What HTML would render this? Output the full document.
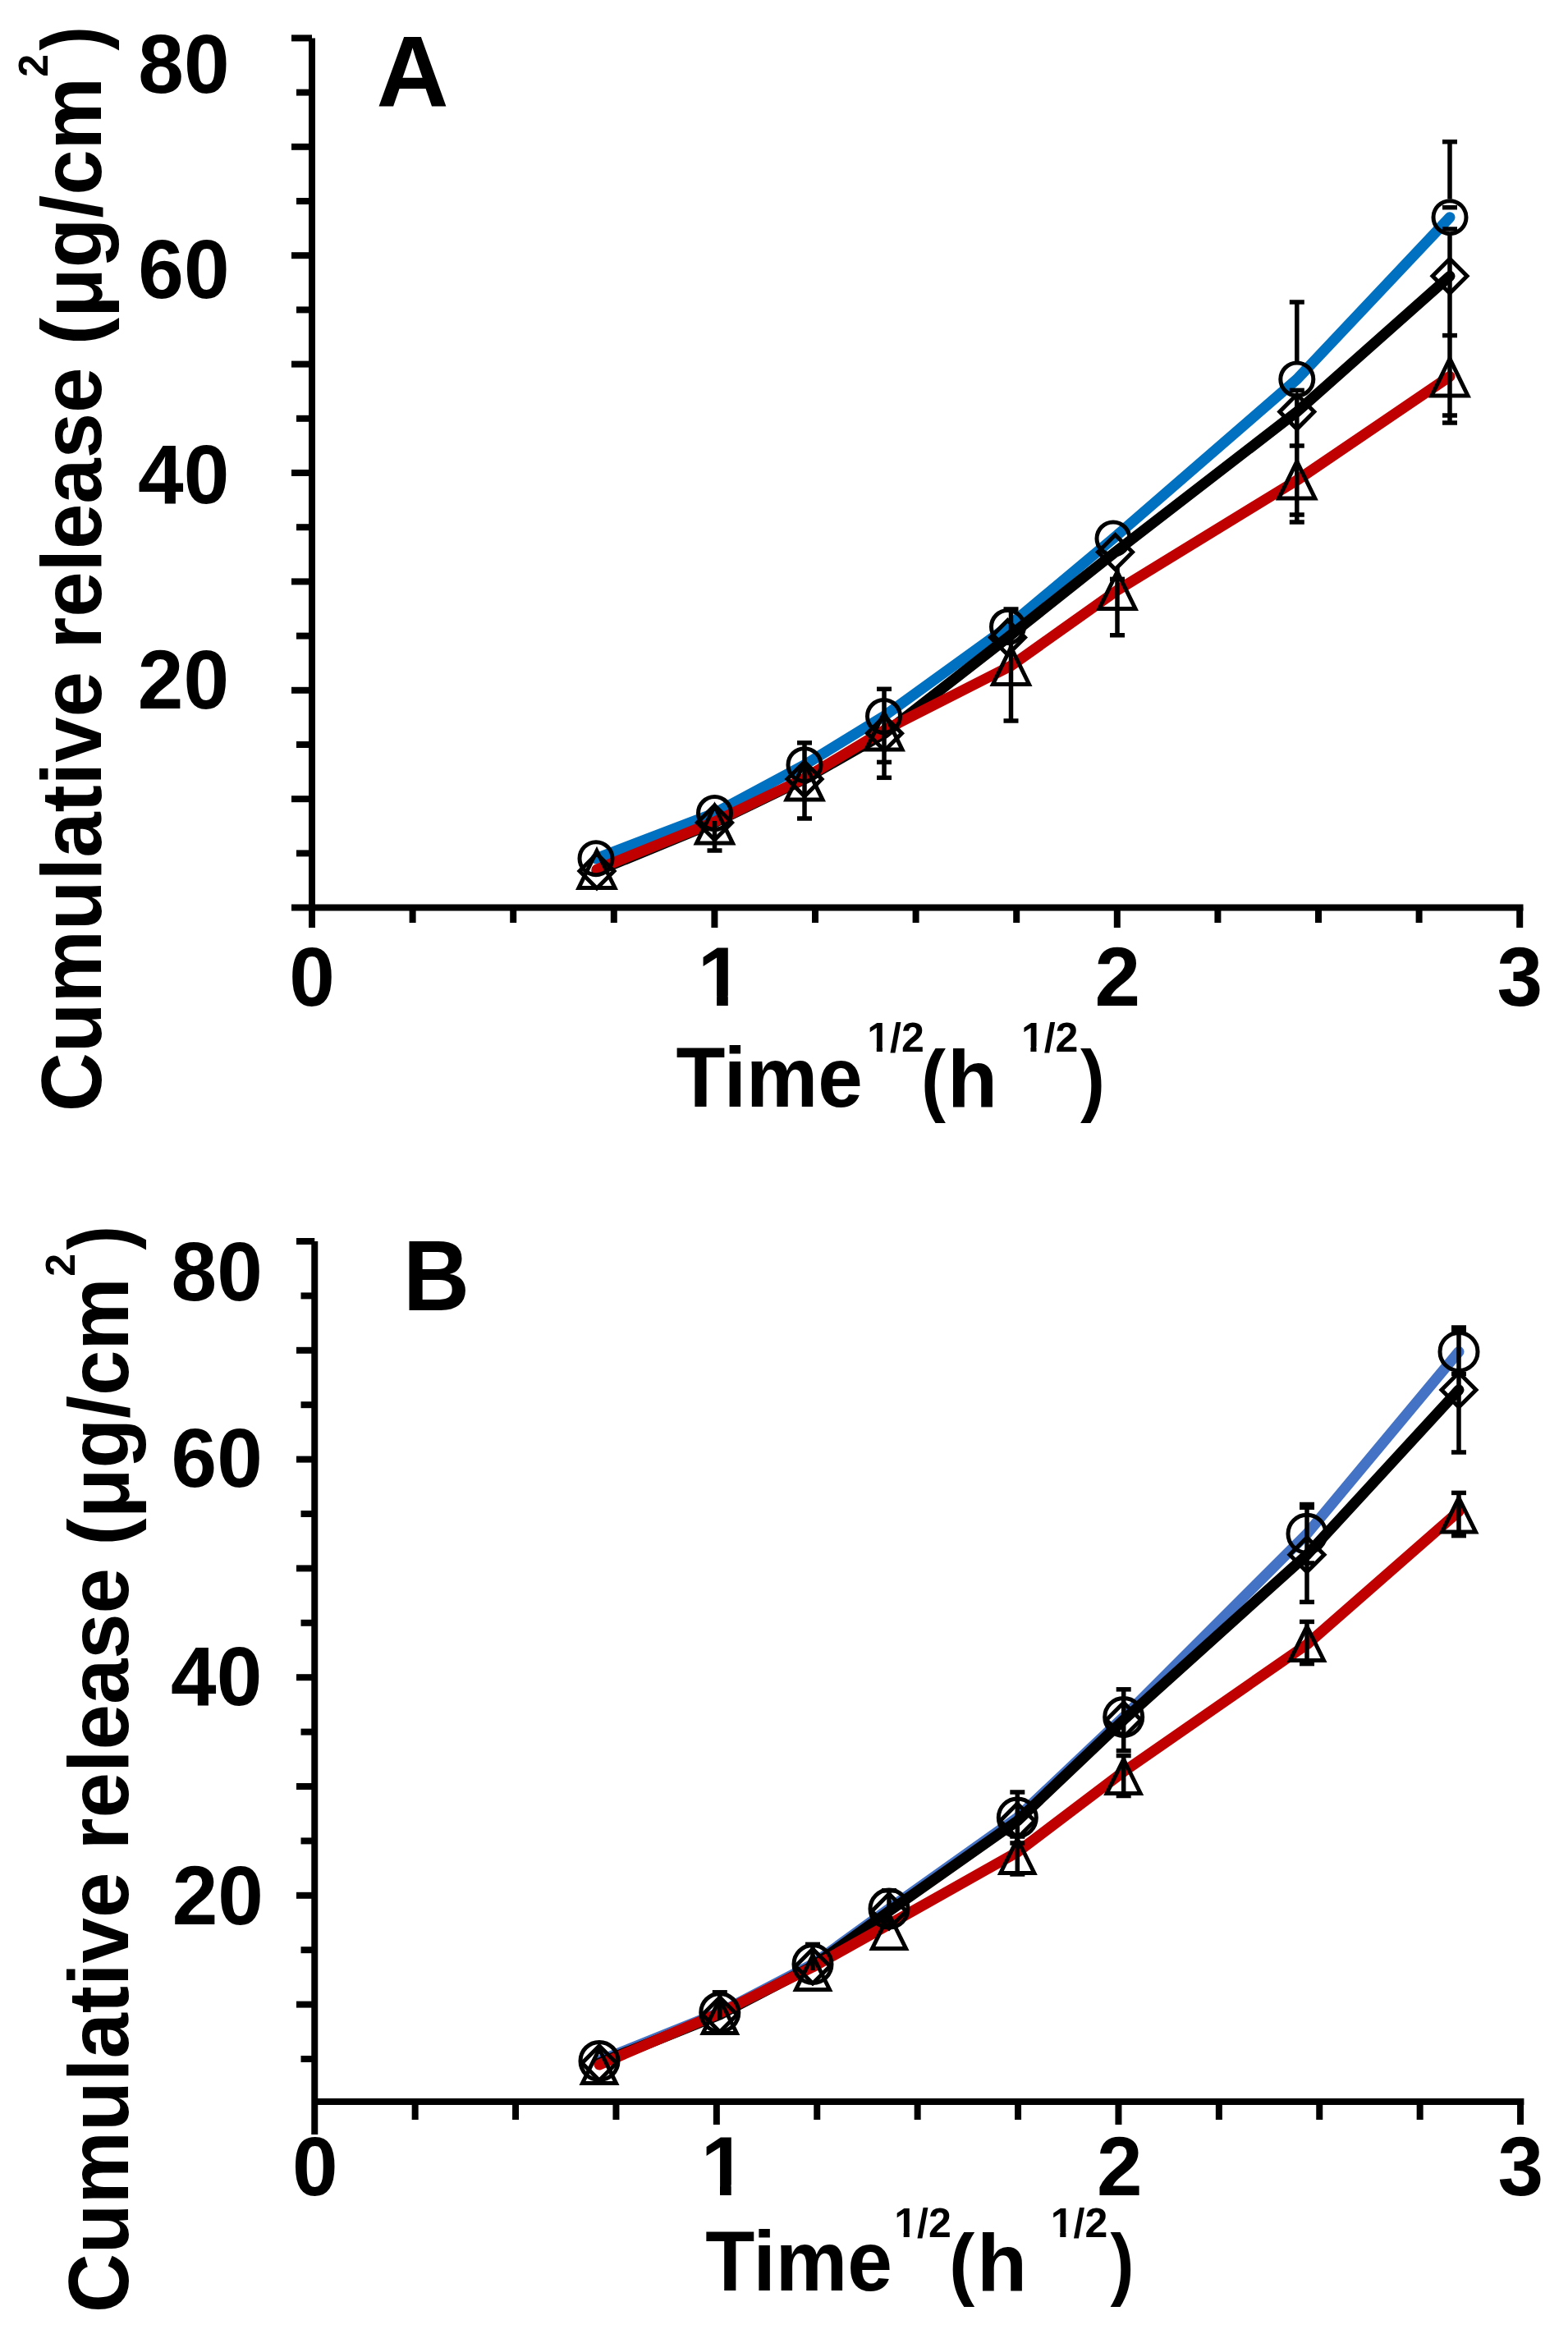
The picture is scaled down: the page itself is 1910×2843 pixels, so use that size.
<!DOCTYPE html>
<html><head><meta charset="utf-8"><title>Cumulative release</title><style>html,body{margin:0;padding:0;background:#fff;overflow:hidden;}svg{display:block;}text{font-family:"Liberation Sans",Arial,sans-serif;font-weight:bold;fill:#000;}</style></head><body>
<svg width="1910" height="2843" viewBox="0 0 1910 2843">
<rect width="1910" height="2843" fill="#fff"/>
<defs><clipPath id="one"><rect x="-20" y="-100" width="100" height="88"/><rect x="23.3" y="-13" width="13.7" height="20"/></clipPath><clipPath id="half"><rect x="-10" y="-60" width="200" height="54.1"/><rect x="11.5" y="-7" width="7.1" height="14"/><rect x="27" y="-7" width="200" height="14"/></clipPath></defs>
<g stroke="#000" stroke-width="8" fill="none" stroke-linecap="butt"><line x1="380" y1="46.4" x2="380" y2="1105.5"/><line x1="355" y1="46.4" x2="380" y2="46.4"/><line x1="361" y1="112.6" x2="380" y2="112.6"/><line x1="355" y1="178.8" x2="380" y2="178.8"/><line x1="361" y1="245" x2="380" y2="245"/><line x1="355" y1="311.2" x2="380" y2="311.2"/><line x1="361" y1="377.4" x2="380" y2="377.4"/><line x1="355" y1="443.6" x2="380" y2="443.6"/><line x1="361" y1="509.8" x2="380" y2="509.8"/><line x1="355" y1="576" x2="380" y2="576"/><line x1="361" y1="642.2" x2="380" y2="642.2"/><line x1="355" y1="708.4" x2="380" y2="708.4"/><line x1="361" y1="774.6" x2="380" y2="774.6"/><line x1="355" y1="840.8" x2="380" y2="840.8"/><line x1="361" y1="907" x2="380" y2="907"/><line x1="355" y1="973.2" x2="380" y2="973.2"/><line x1="361" y1="1039.4" x2="380" y2="1039.4"/><line x1="355" y1="1105.5" x2="1855.5" y2="1105.5"/><line x1="380" y1="1105.5" x2="380" y2="1130"/><line x1="502.6" y1="1105.5" x2="502.6" y2="1124"/><line x1="625.2" y1="1105.5" x2="625.2" y2="1124"/><line x1="747.8" y1="1105.5" x2="747.8" y2="1124"/><line x1="870.4" y1="1105.5" x2="870.4" y2="1130"/><line x1="993" y1="1105.5" x2="993" y2="1124"/><line x1="1115.6" y1="1105.5" x2="1115.6" y2="1124"/><line x1="1238.2" y1="1105.5" x2="1238.2" y2="1124"/><line x1="1360.8" y1="1105.5" x2="1360.8" y2="1130"/><line x1="1483.4" y1="1105.5" x2="1483.4" y2="1124"/><line x1="1606" y1="1105.5" x2="1606" y2="1124"/><line x1="1728.6" y1="1105.5" x2="1728.6" y2="1124"/><line x1="1851.2" y1="1105.5" x2="1851.2" y2="1130"/></g><g fill="none" stroke-width="13" stroke-linejoin="round" stroke-linecap="round"><path stroke="#0070C0" d="M726 1045.7 L870.5 990.5 L980 931.7 L1076.5 872.5 L1227.5 763.5 L1356 656 L1579.8 462 L1766 264.7"/><path stroke="#000" d="M727 1061 L870.5 1002 L980 949 L1077.5 893.3 L1227.5 776.5 L1358.5 672.5 L1579.8 501.6 L1766 336.3"/><path stroke="#C00000" d="M727 1059 L870.5 1001 L980 948 L1077 889.5 L1231.5 811 L1361 719 L1579.8 585 L1766 458.5"/></g><g stroke="#000" stroke-width="5.5" fill="none"><line x1="980" y1="904.8" x2="980" y2="997"/><line x1="971" y1="904.8" x2="989" y2="904.8"/><line x1="971" y1="997" x2="989" y2="997"/><line x1="870.5" y1="1000" x2="870.5" y2="1036"/><line x1="861.5" y1="1036" x2="879.5" y2="1036"/><line x1="1077" y1="839.3" x2="1077" y2="947.3"/><line x1="1068" y1="839.3" x2="1086" y2="839.3"/><line x1="1068" y1="928.4" x2="1086" y2="928.4"/><line x1="1068" y1="947.3" x2="1086" y2="947.3"/><line x1="1231.5" y1="742" x2="1231.5" y2="878"/><line x1="1222.5" y1="742" x2="1240.5" y2="742"/><line x1="1222.5" y1="878" x2="1240.5" y2="878"/><line x1="1361" y1="690" x2="1361" y2="773.75"/><line x1="1352" y1="705.4" x2="1370" y2="705.4"/><line x1="1352" y1="773.75" x2="1370" y2="773.75"/><line x1="1579.8" y1="368" x2="1579.8" y2="440"/><line x1="1570.8" y1="368" x2="1588.8" y2="368"/><line x1="1579.8" y1="484" x2="1579.8" y2="636"/><line x1="1570.8" y1="543" x2="1588.8" y2="543"/><line x1="1570.8" y1="627" x2="1588.8" y2="627"/><line x1="1570.8" y1="636" x2="1588.8" y2="636"/><line x1="1766" y1="172.7" x2="1766" y2="242.5"/><line x1="1757" y1="172.7" x2="1775" y2="172.7"/><line x1="1766" y1="287" x2="1766" y2="515"/><line x1="1757" y1="408.6" x2="1775" y2="408.6"/><line x1="1757" y1="506" x2="1775" y2="506"/><line x1="1757" y1="515" x2="1775" y2="515"/><line x1="1766" y1="252.7" x2="1766" y2="252.7"/><line x1="1757" y1="252.7" x2="1775" y2="252.7"/><line x1="1766" y1="279" x2="1766" y2="279"/><line x1="1757" y1="279" x2="1775" y2="279"/><line x1="1579.8" y1="475.4" x2="1579.8" y2="475.4"/><line x1="1570.8" y1="475.4" x2="1588.8" y2="475.4"/></g><g stroke="#000" stroke-width="5" fill="none" stroke-linejoin="miter"><circle cx="726" cy="1045.7" r="20"/><circle cx="870.5" cy="990.5" r="20"/><circle cx="980" cy="931.7" r="20"/><circle cx="1076.5" cy="872.5" r="20"/><circle cx="1227.5" cy="763.5" r="20"/><circle cx="1356" cy="656" r="20"/><circle cx="1579.8" cy="462" r="20"/><circle cx="1766" cy="264.7" r="20"/><path d="M727 1040 L748 1061 L727 1082 L706 1061 Z"/><path d="M870.5 981 L891.5 1002 L870.5 1023 L849.5 1002 Z"/><path d="M980 928 L1001 949 L980 970 L959 949 Z"/><path d="M1077.5 872.3 L1098.5 893.3 L1077.5 914.3 L1056.5 893.3 Z"/><path d="M1227.5 755.5 L1248.5 776.5 L1227.5 797.5 L1206.5 776.5 Z"/><path d="M1358.5 651.5 L1379.5 672.5 L1358.5 693.5 L1337.5 672.5 Z"/><path d="M1579.8 480.6 L1600.8 501.6 L1579.8 522.6 L1558.8 501.6 Z"/><path d="M1766 315.3 L1787 336.3 L1766 357.3 L1745 336.3 Z"/><path d="M727 1036.5 L749 1081.5 L705 1081.5 Z"/><path d="M870.5 982 L892.5 1027 L848.5 1027 Z"/><path d="M980 929.1 L1002 974.1 L958 974.1 Z"/><path d="M1077 868.1 L1099 913.1 L1055 913.1 Z"/><path d="M1231.5 788.5 L1253.5 833.5 L1209.5 833.5 Z"/><path d="M1361 696.5 L1383 741.5 L1339 741.5 Z"/><path d="M1579.8 562 L1601.8 607 L1557.8 607 Z"/><path d="M1766 436.9 L1788 481.9 L1744 481.9 Z"/></g>
<g stroke="#000" stroke-width="8" fill="none" stroke-linecap="butt"><line x1="383.25" y1="1512" x2="383.25" y2="2600"/><line x1="361" y1="1512" x2="383.25" y2="1512"/><line x1="366.5" y1="1578.4" x2="383.25" y2="1578.4"/><line x1="361" y1="1644.8" x2="383.25" y2="1644.8"/><line x1="366.5" y1="1711.2" x2="383.25" y2="1711.2"/><line x1="361" y1="1777.6" x2="383.25" y2="1777.6"/><line x1="366.5" y1="1844" x2="383.25" y2="1844"/><line x1="361" y1="1910.4" x2="383.25" y2="1910.4"/><line x1="366.5" y1="1976.8" x2="383.25" y2="1976.8"/><line x1="361" y1="2043.2" x2="383.25" y2="2043.2"/><line x1="366.5" y1="2109.6" x2="383.25" y2="2109.6"/><line x1="361" y1="2176" x2="383.25" y2="2176"/><line x1="366.5" y1="2242.4" x2="383.25" y2="2242.4"/><line x1="361" y1="2308.8" x2="383.25" y2="2308.8"/><line x1="366.5" y1="2375.2" x2="383.25" y2="2375.2"/><line x1="361" y1="2441.6" x2="383.25" y2="2441.6"/><line x1="366.5" y1="2508" x2="383.25" y2="2508"/><line x1="383.25" y1="2560" x2="1856.4" y2="2560"/><line x1="505.65" y1="2560" x2="505.65" y2="2582"/><line x1="628.05" y1="2560" x2="628.05" y2="2582"/><line x1="750.45" y1="2560" x2="750.45" y2="2582"/><line x1="872.85" y1="2560" x2="872.85" y2="2588"/><line x1="995.25" y1="2560" x2="995.25" y2="2582"/><line x1="1117.65" y1="2560" x2="1117.65" y2="2582"/><line x1="1240.05" y1="2560" x2="1240.05" y2="2582"/><line x1="1362.45" y1="2560" x2="1362.45" y2="2588"/><line x1="1484.85" y1="2560" x2="1484.85" y2="2582"/><line x1="1607.25" y1="2560" x2="1607.25" y2="2582"/><line x1="1729.65" y1="2560" x2="1729.65" y2="2582"/><line x1="1852.05" y1="2560" x2="1852.05" y2="2588"/></g><g fill="none" stroke-width="13" stroke-linejoin="round" stroke-linecap="round"><path stroke="#4472C4" d="M730 2510.4 L876.8 2451.4 L990 2392.5 L1083 2325 L1239.3 2214 L1368.7 2091.5 L1592 1868.3 L1777 1646.5"/><path stroke="#000" d="M730 2513 L876.8 2454 L990 2395 L1083 2328 L1239.3 2218 L1368.7 2095 L1592 1893.8 L1777 1693"/><path stroke="#C00000" d="M730 2515 L876.8 2452 L990 2396 L1083 2344 L1239.3 2256 L1368.7 2158 L1592 2003 L1777 1841"/></g><g stroke="#000" stroke-width="5.5" fill="none"><line x1="876.8" y1="2426.8" x2="876.8" y2="2460"/><line x1="867.8" y1="2426.8" x2="885.8" y2="2426.8"/><line x1="990" y1="2368.4" x2="990" y2="2400"/><line x1="981" y1="2368.4" x2="999" y2="2368.4"/><line x1="1083" y1="2302.8" x2="1083" y2="2347"/><line x1="1074" y1="2302.8" x2="1092" y2="2302.8"/><line x1="1074" y1="2347" x2="1092" y2="2347"/><line x1="1239.3" y1="2183" x2="1239.3" y2="2245"/><line x1="1230.3" y1="2183" x2="1248.3" y2="2183"/><line x1="1230.3" y1="2245" x2="1248.3" y2="2245"/><line x1="1239.3" y1="2237" x2="1239.3" y2="2283"/><line x1="1230.3" y1="2237" x2="1248.3" y2="2237"/><line x1="1230.3" y1="2283" x2="1248.3" y2="2283"/><line x1="1368.7" y1="2057.8" x2="1368.7" y2="2132.5"/><line x1="1359.7" y1="2057.8" x2="1377.7" y2="2057.8"/><line x1="1359.7" y1="2132.5" x2="1377.7" y2="2132.5"/><line x1="1368.7" y1="2138.5" x2="1368.7" y2="2187.5"/><line x1="1359.7" y1="2138.5" x2="1377.7" y2="2138.5"/><line x1="1359.7" y1="2187.5" x2="1377.7" y2="2187.5"/><line x1="1592" y1="1832.5" x2="1592" y2="1951.4"/><line x1="1583" y1="1832.5" x2="1601" y2="1832.5"/><line x1="1583" y1="1836.2" x2="1601" y2="1836.2"/><line x1="1583" y1="1904" x2="1601" y2="1904"/><line x1="1583" y1="1951.4" x2="1601" y2="1951.4"/><line x1="1592" y1="1975.4" x2="1592" y2="2026.6"/><line x1="1583" y1="1975.4" x2="1601" y2="1975.4"/><line x1="1583" y1="2026.6" x2="1601" y2="2026.6"/><line x1="1777" y1="1617" x2="1777" y2="1769"/><line x1="1768" y1="1617" x2="1786" y2="1617"/><line x1="1768" y1="1620.5" x2="1786" y2="1620.5"/><line x1="1768" y1="1673.5" x2="1786" y2="1673.5"/><line x1="1768" y1="1769" x2="1786" y2="1769"/><line x1="1777" y1="1818.4" x2="1777" y2="1870.6"/><line x1="1768" y1="1818.4" x2="1786" y2="1818.4"/><line x1="1768" y1="1870.6" x2="1786" y2="1870.6"/></g><g stroke="#000" stroke-width="5" fill="none" stroke-linejoin="miter"><circle cx="730" cy="2510.4" r="23"/><circle cx="876.8" cy="2451.4" r="23"/><circle cx="990" cy="2392.5" r="23"/><circle cx="1083" cy="2325" r="23"/><circle cx="1239.3" cy="2214" r="23"/><circle cx="1368.7" cy="2091.5" r="23"/><circle cx="1592" cy="1868.3" r="23"/><circle cx="1777" cy="1646.5" r="23"/><path d="M730 2492 L751 2513 L730 2534 L709 2513 Z"/><path d="M876.8 2433 L897.8 2454 L876.8 2475 L855.8 2454 Z"/><path d="M990 2374 L1011 2395 L990 2416 L969 2395 Z"/><path d="M1083 2307 L1104 2328 L1083 2349 L1062 2328 Z"/><path d="M1239.3 2197 L1260.3 2218 L1239.3 2239 L1218.3 2218 Z"/><path d="M1368.7 2074 L1389.7 2095 L1368.7 2116 L1347.7 2095 Z"/><path d="M1592 1872.8 L1613 1893.8 L1592 1914.8 L1571 1893.8 Z"/><path d="M1777 1672 L1798 1693 L1777 1714 L1756 1693 Z"/><path d="M730 2496 L750.5 2537.5 L709.5 2537.5 Z"/><path d="M876.8 2435 L897.3 2476.5 L856.3 2476.5 Z"/><path d="M990 2382 L1010.5 2423.5 L969.5 2423.5 Z"/><path d="M1083 2332 L1103.5 2373.5 L1062.5 2373.5 Z"/><path d="M1239.3 2240 L1259.8 2281.5 L1218.8 2281.5 Z"/><path d="M1368.7 2143 L1389.2 2184.5 L1348.2 2184.5 Z"/><path d="M1592 1981 L1612.5 2022.5 L1571.5 2022.5 Z"/><path d="M1777 1824.5 L1797.5 1866 L1756.5 1866 Z"/></g>
<text transform="translate(279.6 113) scale(1 1.025)" font-size="100" text-anchor="end">80</text><text transform="translate(279.6 363.3) scale(1 1.025)" font-size="100" text-anchor="end">60</text><text transform="translate(279.3 613) scale(1 1.025)" font-size="100" text-anchor="end">40</text><text transform="translate(279.1 863) scale(1 1.025)" font-size="100" text-anchor="end">20</text><text transform="translate(849.8 1225) scale(1 1.025)" font-size="100" text-anchor="start" clip-path="url(#one)">1</text><text transform="translate(380 1225) scale(1 1.025)" font-size="100" text-anchor="middle">0</text><text transform="translate(1361.3 1225) scale(1 1.025)" font-size="100" text-anchor="middle">2</text><text transform="translate(1851.4 1225) scale(1 1.025)" font-size="100" text-anchor="middle">3</text><text transform="translate(458.5 130) scale(1 1)" font-size="122" text-anchor="start">A</text><text transform="translate(823.6 1347.7) scale(0.981 1.03)" font-size="100">Time</text><text transform="translate(1056.3 1280.6) scale(1 1)" font-size="50" text-anchor="start" clip-path="url(#half)">1/2</text><text transform="translate(1122.1 1347.7) scale(0.9 0.98)" font-size="100">(</text><text transform="translate(1154 1347.7) scale(1 0.985)" font-size="100" text-anchor="start">h</text><text transform="translate(1243.9 1280.6) scale(1 1)" font-size="50" text-anchor="start" clip-path="url(#half)">1/2</text><text transform="translate(1315.9 1347.7) scale(0.9 0.98)" font-size="100">)</text><g transform="translate(123 1354.1) rotate(-90)"><text font-size="100" transform="scale(1 1.03)" textLength="1260" lengthAdjust="spacingAndGlyphs">Cumulative release (μg/cm</text><text font-size="50" transform="translate(1260.4 -65)">2</text><text font-size="100" transform="translate(1292.7 0) scale(0.88 1.03)">)</text></g>
<text transform="translate(319.8 1583.6) scale(1 1.025)" font-size="100" text-anchor="end">80</text><text transform="translate(319.8 1811) scale(1 1.025)" font-size="100" text-anchor="end">60</text><text transform="translate(319.3 2077.4) scale(1 1.025)" font-size="100" text-anchor="end">40</text><text transform="translate(320.9 2344) scale(1 1.025)" font-size="100" text-anchor="end">20</text><text transform="translate(853.7 2673.5) scale(1 1.025)" font-size="100" text-anchor="start" clip-path="url(#one)">1</text><text transform="translate(383.75 2673.5) scale(1 1.025)" font-size="100" text-anchor="middle">0</text><text transform="translate(1363.8 2673.5) scale(1 1.025)" font-size="100" text-anchor="middle">2</text><text transform="translate(1852.4 2673.5) scale(1 1.025)" font-size="100" text-anchor="middle">3</text><text transform="translate(491.1 1596) scale(0.92 1)" font-size="122">B</text><text transform="translate(859.2 2790) scale(0.984 1.03)" font-size="100">Time</text><text transform="translate(1089.2 2725) scale(1 1)" font-size="50" text-anchor="start" clip-path="url(#half)">1/2</text><text transform="translate(1156.1 2790) scale(0.94 0.98)" font-size="100">(</text><text transform="translate(1190 2790) scale(1 0.985)" font-size="100" text-anchor="start">h</text><text transform="translate(1279.8 2725) scale(1 1)" font-size="50" text-anchor="start" clip-path="url(#half)">1/2</text><text transform="translate(1352.5 2790) scale(0.87 0.98)" font-size="100">)</text><g transform="translate(156.1 2817) rotate(-90)"><text font-size="100" transform="scale(1 1.03)" textLength="1260.7" lengthAdjust="spacingAndGlyphs">Cumulative release (μg/cm</text><text font-size="50" transform="translate(1262.3 -65)">2</text><text font-size="100" transform="translate(1294.6 0) scale(0.88 1.03)">)</text></g>
</svg>
</body></html>
